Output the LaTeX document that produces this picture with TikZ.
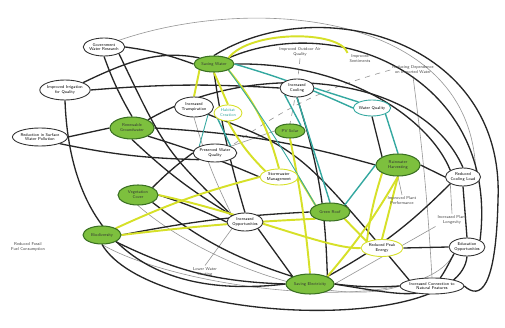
\documentclass[tikz,border=0pt]{standalone}
\usepackage{tikz}
\usetikzlibrary{positioning,shapes.geometric,backgrounds}
\usepackage{xcolor}
\definecolor{leaf}{RGB}{125,192,62}
\definecolor{leafline}{RGB}{58,112,34}
\definecolor{sprout}{RGB}{214,224,40}
\definecolor{lagoon}{RGB}{52,168,160}
\definecolor{ash}{RGB}{150,150,150}

\begin{document}
\begin{tikzpicture}[x=0.02cm,y=-0.02cm,font=\sffamily\fontsize{2.4}{2.8}\selectfont,
strategy/.style={ellipse,draw=leafline,line width=0.6pt,fill=leaf,text=black!80,align=center,inner sep=0pt},
outcome/.style={ellipse,draw=black!80,line width=0.5pt,fill=white,align=center,inner sep=0pt},
loose/.style={align=center,inner sep=1pt,text=black!75},
dark/.style={draw=black!85,line width=0.75pt},
faint/.style={draw=ash,line width=0.35pt},
yellowline/.style={draw=sprout,line width=1.1pt},
tealline/.style={draw=lagoon,line width=0.8pt}]
\useasboundingbox (0,0) rectangle (505,328);

\node[strategy,minimum width=0.8cm,minimum height=0.32cm] (gw) at (214,64) {Saving Water};
\node[strategy,minimum width=0.88cm,minimum height=0.44cm] (rg) at (132,128) {Renewable\\Groundwater};
\node[strategy,minimum width=0.8cm,minimum height=0.4cm] (vg) at (138,195) {Vegetation\\Cover};
\node[strategy,minimum width=0.76cm,minimum height=0.36cm] (bd) at (102,235) {Biodiversity};
\node[strategy,minimum width=0.6cm,minimum height=0.28cm] (pv) at (290,131) {PV Solar};
\node[strategy,minimum width=0.88cm,minimum height=0.44cm] (rh) at (398,165) {Rainwater\\Harvesting};
\node[strategy,minimum width=0.8cm,minimum height=0.36cm] (gr) at (330,212) {Green Roof};
\node[strategy,minimum width=0.96cm,minimum height=0.4cm] (se) at (310,284) {Saving Electricity};

\node[outcome,minimum width=0.8cm,minimum height=0.36cm] (wr) at (104,47) {Government\\Water Research};
\node[outcome,minimum width=1cm,minimum height=0.4cm] (iq) at (65,90) {Improved Irrigation\\for Quality};
\node[outcome,minimum width=1cm,minimum height=0.36cm] (np) at (40,137) {Reduction in Surface\\Water Pollution};
\node[outcome,minimum width=0.78cm,minimum height=0.4cm] (ip) at (194,107) {Increased\\Transpiration};
\node[outcome,draw=sprout,text=lagoon,minimum width=0.56cm,minimum height=0.32cm] (hc) at (228,113) {Habitat\\Creation};
\node[outcome,minimum width=0.68cm,minimum height=0.36cm] (ic) at (297,88) {Increased\\Cooling};
\node[outcome,draw=lagoon,minimum width=0.72cm,minimum height=0.32cm] (wq) at (372,108) {Water Quality};
\node[outcome,minimum width=0.8cm,minimum height=0.36cm] (pwq) at (215,153) {Preserved Water\\Quality};
\node[outcome,draw=sprout,minimum width=0.76cm,minimum height=0.32cm] (eo) at (279,177) {Stormwater\\Management};
\node[outcome,minimum width=0.72cm,minimum height=0.36cm] (io) at (245,222) {Increased\\Opportunities};
\node[outcome,minimum width=0.6cm,minimum height=0.36cm] (cl) at (463,177) {Reduced\\Cooling Load};
\node[outcome,draw=sprout,minimum width=0.84cm,minimum height=0.34cm] (pe) at (382,248) {Reduced Peak\\Energy};
\node[outcome,minimum width=0.64cm,minimum height=0.36cm] (ed) at (467,247) {Education\\Opportunities};
\node[outcome,minimum width=1.16cm,minimum height=0.32cm] (cn) at (432,286) {Increased Connection to\\Natural Features};

\node[loose] (aq) at (300,52) {Improved Outdoor Air\\Quality};
\node[loose] (sm) at (360,59) {Improved\\Sentiments};
\node[loose] (dep) at (413,70) {Reducing Dependence\\on Imported Water};
\node[loose] (pp) at (402,201) {Improved Plant\\Performance};
\node[loose] (pl) at (452,220) {Increased Plant\\Longevity};
\node[loose] (wh) at (205,272) {Lower Water\\Heating};
\node[loose] (ff) at (28,247) {Reduced Fossil\\Fuel Consumption};

\begin{scope}[on background layer]
\draw[faint] (wr.north east) .. controls (250,-5) and (470,10) .. (cl.north east);
\draw[faint,dashed] (dep.west) to[bend right=10] (pwq.north east);
\draw[faint] (dep.south) to[bend left=2] (cn.north);
\draw[faint] (wh.north) -- (io.south west);
\draw[faint] (ip.south) to[bend right=5] (io.north west);
\draw[faint,dashed] (aq.south) to[bend left=3] (pv.north);
\draw[faint] (pp.north) -- (rh.south);
\draw[faint] (pl.north) -- (cl.south west);
\draw[faint] (pl.south west) -- (se.east);
\draw[faint] (vg.south) .. controls (200,260) and (330,310) .. (cn.west);
\draw[faint] (pwq.north east) -- (pv.west);
\draw[faint] (bd.south) .. controls (180,290) and (420,320) .. (ed.south west);

\draw[dark] (wr.east) to[bend left=6] (gw.west);
\draw[dark] (wr.south) to[bend right=5] (rg.north);
\draw[dark] (wr.south east) .. controls (165,150) .. (io.north west);
\draw[dark] (iq.north east) .. controls (130,60) and (160,50) .. (gw.north west);
\draw[dark] (iq.east) to[bend left=4] (ic.west);
\draw[dark] (iq.south) .. controls (70,240) and (150,300) .. (se.west);
\draw[dark] (np.east) -- (rg.west);
\draw[dark] (np.south east) to[bend right=5] (pwq.south west);
\draw[dark] (rg.east) to[bend left=6] (rh.west);
\draw[dark] (rg.south east) to[bend left=3] (eo.west);
\draw[dark] (rg.south) to[bend right=6] (io.north west);
\draw[dark] (rg.north east) .. controls (250,60) and (420,70) .. (cl.north);
\draw[dark] (vg.east) to[bend left=4] (io.west);
\draw[dark] (vg.north east) to[bend left=4] (pwq.west);
\draw[dark] (vg.south east) to[bend right=10] (se.north west);
\draw[dark] (bd.east) to[bend left=4] (gr.west);
\draw[dark] (bd.south east) to[bend right=12] (se.west);
\draw[dark] (bd.south) .. controls (150,325) and (460,335) .. (ed.south);
\draw[dark] (gw.east) .. controls (350,62) and (430,120) .. (cl.north west);
\draw[dark] (gw.north east) .. controls (340,10) and (500,80) .. (ed.north east);
\draw[dark] (gw.north) .. controls (320,-10) and (505,40) .. (498,200) .. controls (496,290) and (480,300) .. (cn.east);
\draw[dark] (gw.south) to[bend right=4] (io.north);
\draw[dark] (ip.south east) .. controls (300,150) .. (cn.north west);
\draw[dark] (ic.south) to[bend left=8] (se.north east);
\draw[dark] (wq.south) -- (rh.north west);
\draw[dark] (rh.east) -- (cl.west);
\draw[dark] (cl.south) -- (ed.north);
\draw[dark] (cl.south west) to[bend left=8] (se.north east);
\draw[dark] (ed.south west) .. controls (430,300) .. (se.east);
\draw[dark] (io.south east) -- (se.north west);
\draw[dark] (cn.west) to[bend left=5] (se.east);
\draw[dark] (pe.east) -- (ed.west);

\draw[yellowline] (gw.north east) .. controls (250,30) and (340,30) .. (sm.north west);
\draw[yellowline] (gw.south) -- (hc.north);
\draw[yellowline] (gw.south west) -- (ip.north);
\draw[yellowline] (gw.south east) to[bend left=12] (eo.north);
\draw[yellowline] (hc.south) to[bend right=8] (eo.north west);
\draw[yellowline] (pv.south) to[bend left=3] (se.north);
\draw[yellowline] (vg.east) .. controls (250,215) and (330,250) .. (pe.west);
\draw[yellowline] (bd.east) to[bend left=2] (gr.south west);
\draw[yellowline] (bd.north east) to[bend left=5] (eo.west);
\draw[yellowline] (rh.south) -- (pe.north);
\draw[yellowline] (rh.south west) to[bend right=5] (pe.north west);
\draw[yellowline] (gr.south east) -- (pe.north west);
\draw[yellowline] (eo.east) -- (gr.north west);
\draw[yellowline] (se.north east) to[bend right=5] (rh.south);

\draw[tealline] (gw.east) to[bend left=4] (wq.west);
\draw[tealline] (ic.south) -- (gr.north);
\draw[tealline] (ic.east) -- (wq.north west);
\draw[tealline] (wq.south east) -- (rh.north);
\draw[tealline] (pv.north east) -- (ic.south west);
\draw[tealline] (hc.south west) -- (pwq.north east);
\draw[tealline] (gr.north east) -- (rh.west);
\draw[tealline,line width=0.5pt] (gw.south east) to[bend left=3] (gr.north west);
\draw[tealline,line width=0.5pt] (ip.south east) -- (pwq.north west);
\end{scope}
\end{tikzpicture}
\end{document}
